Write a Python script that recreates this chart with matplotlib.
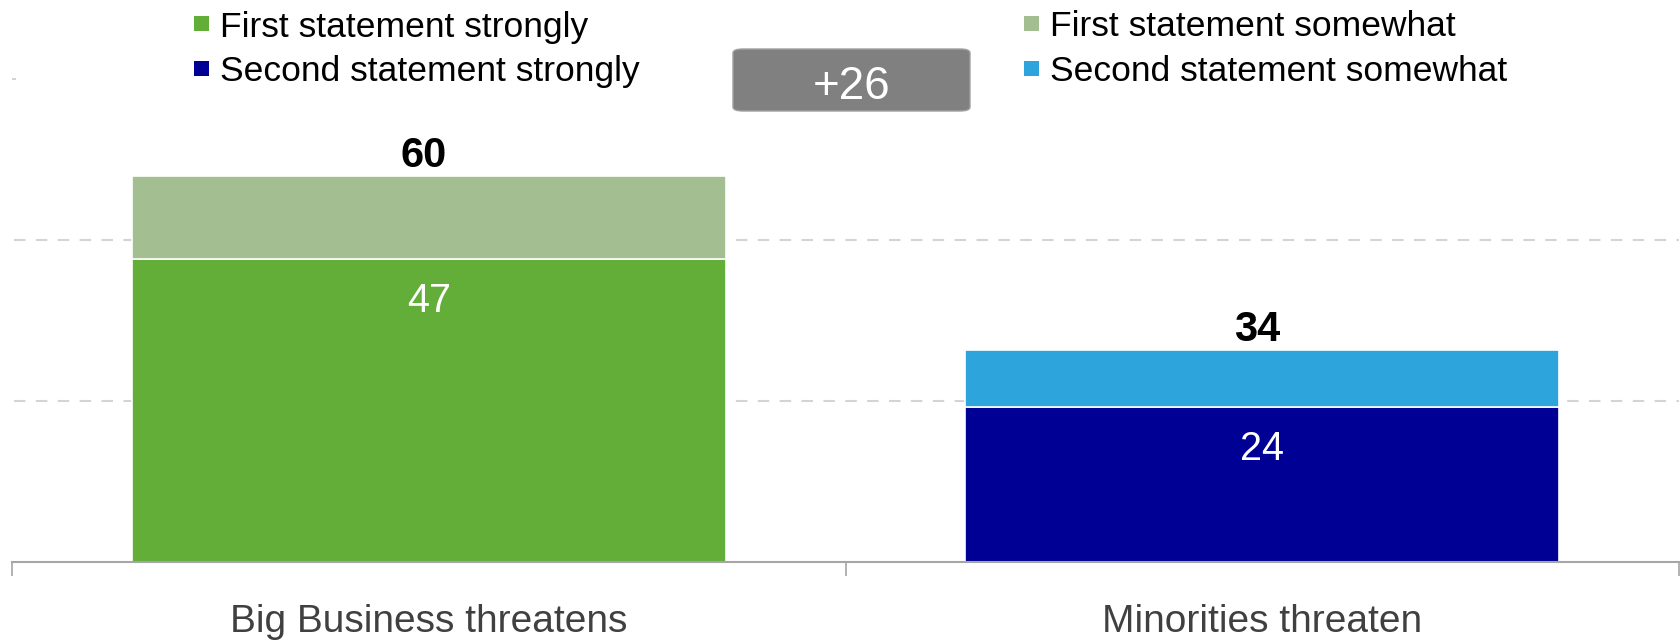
import matplotlib
matplotlib.use("Agg")
import matplotlib.pyplot as plt
from matplotlib.patches import Rectangle, FancyBboxPatch

plt.rcParams['font.family'] = ['Liberation Sans', 'DejaVu Sans']

categories = ["Big Business threatens", "Minorities threaten"]
strongly = [47, 24]
somewhat = [13, 9]
total_labels = ["60", "34"]
strong_labels = ["47", "24"]
strong_colors = ["#62AE38", "#000094"]
somewhat_colors = ["#A3BE90", "#2DA5DC"]
legend_labels = ["First statement strongly", "Second statement strongly",
                 "First statement somewhat", "Second statement somewhat"]
legend_colors = ["#62AE38", "#000094", "#A3BE90", "#2DA5DC"]
gap_label = "+26"
grid_values = [25, 50]

W, H = 1681, 640
fig = plt.figure(figsize=(W / 100, H / 100), dpi=100)

def fx(x):
    return x / W

def fy(y):
    return 1 - y / H

ax_left, ax_right, ax_base, ax_top = 12, 1679, 562, 0
ax = fig.add_axes([fx(ax_left), fy(ax_base), (ax_right - ax_left) / W, (ax_base - ax_top) / H])
ppu = 6.438
ax.set_ylim(0, (ax_base - ax_top) / ppu)
ax.set_xlim(-0.5, 1.5)

for g in grid_values:
    ax.axhline(g, color="#D4D4D4", lw=1.5, ls=(0, (5.5, 5)), zorder=0, xmin=0.001)
ax.axhline(75, color="#D4D4D4", lw=1.5, xmin=0.0, xmax=0.002, zorder=0)

x = list(range(len(categories)))
bw = 0.713
ax.bar(x, strongly, width=bw, color=strong_colors, edgecolor="white", linewidth=1.2, zorder=2)
ax.bar(x, somewhat, width=bw, bottom=strongly, color=somewhat_colors, edgecolor="white", linewidth=1.2, zorder=2)

for i in x:
    tot = strongly[i] + somewhat[i]
    ax.annotate(total_labels[i], (i, tot), xytext=(-4, 6.5), textcoords="offset points",
                ha="center", va="baseline", fontsize=30, fontweight="bold", color="black")
    ax.annotate(strong_labels[i], (i, strongly[i]), xytext=(0, -38), textcoords="offset points",
                ha="center", va="baseline", fontsize=28.5, color="white")

for s in ["top", "left", "right"]:
    ax.spines[s].set_visible(False)
ax.spines["bottom"].set_color("#A6A6A6")
ax.spines["bottom"].set_linewidth(1.5)
ax.set_yticks([])
ax.set_xticks(x)
ax.set_xticklabels(categories, fontsize=28, color="#404040")
ax.tick_params(axis="x", which="major", length=0, pad=30.5)
ax.set_xticks([-0.5, 0.5, 1.5], minor=True)
ax.tick_params(axis="x", which="minor", length=10, width=1.2, color="#A6A6A6")

# legend (manual)
leg_rows = [(194, 23.5, 36.5), (194, 68, 81), (1024, 23.5, 36.5), (1024, 68, 81)]
for (lx, my, by), lab, col in zip(leg_rows, legend_labels, legend_colors):
    fig.add_artist(Rectangle((fx(lx), fy(my + 7.5)), 15 / W, 15 / H, transform=fig.transFigure,
                             facecolor=col, edgecolor="none"))
    fig.text(fx(lx + 26), fy(by), lab, fontsize=25.5, color="black", ha="left", va="baseline")

# difference box
bx0, bx1, by0, by1 = 733, 970, 49, 111
fig.add_artist(FancyBboxPatch((fx(bx0), fy(by1)), (bx1 - bx0) / W, (by1 - by0) / H,
                              boxstyle="round,pad=0,rounding_size=0.006", transform=fig.transFigure,
                              facecolor="#808080", edgecolor="#A0A0A0", linewidth=1))
fig.text(fx((bx0 + bx1) / 2), fy(99), gap_label, fontsize=33, color="white", ha="center", va="baseline")

fig.savefig("out.png", dpi=100, facecolor="white")
